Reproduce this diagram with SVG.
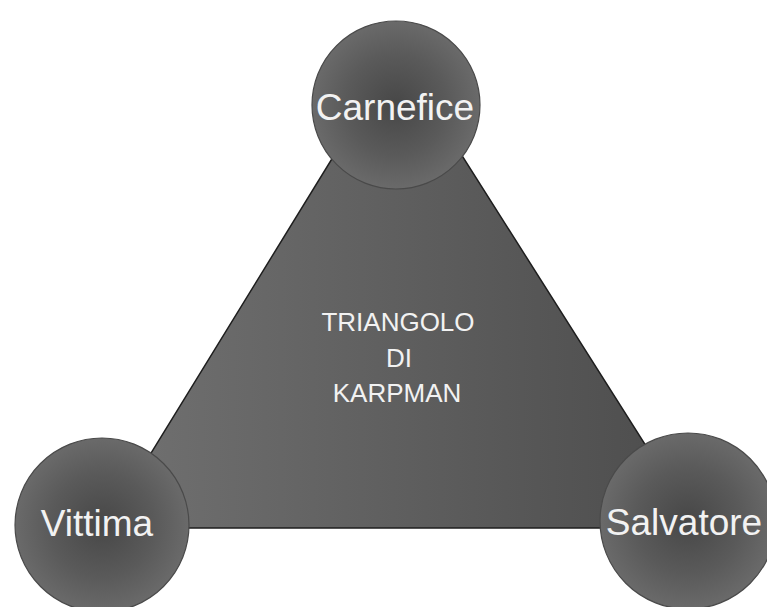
<svg xmlns="http://www.w3.org/2000/svg" width="767" height="607" viewBox="0 0 767 607">
  <defs>
    <linearGradient id="triFill" x1="0" y1="0" x2="1" y2="0">
      <stop offset="0" stop-color="#717171"/>
      <stop offset="1" stop-color="#4c4c4c"/>
    </linearGradient>
    <radialGradient id="circFill" cx="0.5" cy="0.5" r="0.5">
      <stop offset="0" stop-color="#474747"/>
      <stop offset="0.6" stop-color="#5a5a5a"/>
      <stop offset="1" stop-color="#6a6a6a"/>
    </radialGradient>
  </defs>
  <style>
    .bg { fill: #ffffff; }
    .tri { fill: url(#triFill); stroke: #1e1e1e; stroke-width: 1.5; stroke-linejoin: miter; }
    .node { fill: url(#circFill); stroke: #4a4a4a; stroke-width: 1.2; }
    .lbl { font-family: "Liberation Sans", Arial, sans-serif; fill: #f2f2f2; text-anchor: middle; }
    .big { font-size: 37px; }
    .mid { font-size: 26px; }
  </style>
  <rect class="bg" x="0" y="0" width="767" height="607"/>
  <g id="connectors">
    <polygon class="tri" points="397,53 105,528 698,528"/>
  </g>
  <g id="center-label">
    <text class="lbl mid" x="398" y="331">TRIANGOLO</text>
    <text class="lbl mid" x="399" y="367">DI</text>
    <text class="lbl mid" x="397" y="402">KARPMAN</text>
  </g>
  <g id="node-carnefice">
    <circle class="node" cx="396" cy="105" r="84"/>
    <text class="lbl big" x="395" y="120">Carnefice</text>
  </g>
  <g id="node-vittima">
    <circle class="node" cx="102" cy="525" r="87"/>
    <text class="lbl big" x="97" y="536">Vittima</text>
  </g>
  <g id="node-salvatore">
    <circle class="node" cx="688" cy="521" r="88"/>
    <text class="lbl big" x="684" y="535">Salvatore</text>
  </g>
</svg>
